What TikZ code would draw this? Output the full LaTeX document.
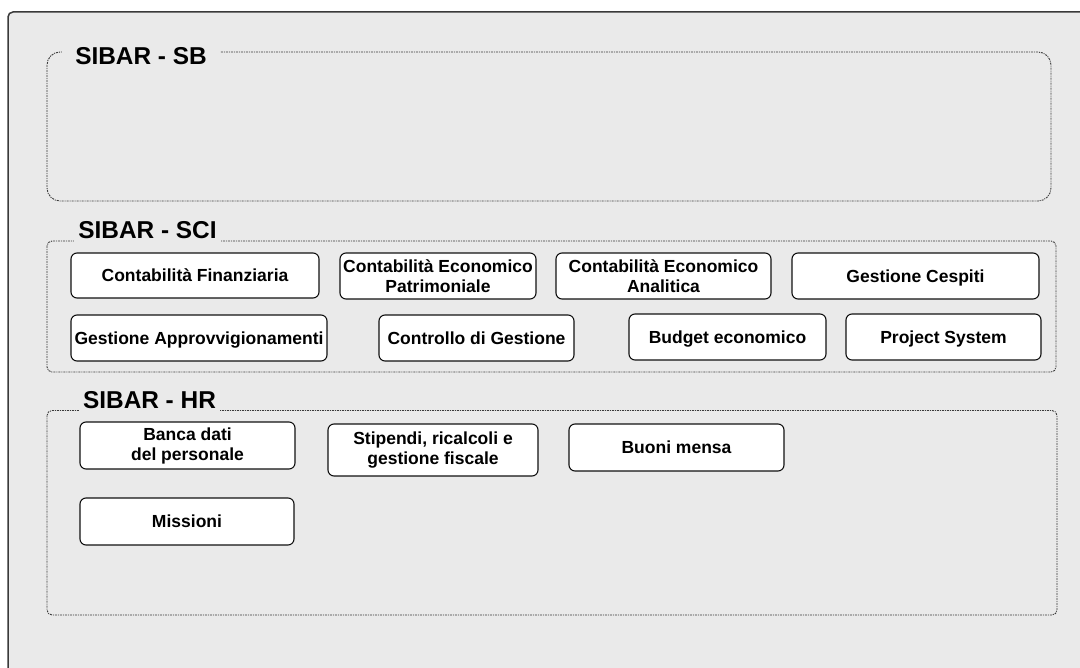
\documentclass[tikz,border=0pt]{standalone}
\usepackage{fontspec}
\setmainfont{Liberation Sans}
\usepackage{xcolor}
\usetikzlibrary{positioning,backgrounds}
\definecolor{ink}{HTML}{111111}
\definecolor{frame}{HTML}{3A3A3A}
\definecolor{paper}{HTML}{EAEAEA}
\tikzset{
  modbox/.style={draw=ink, fill=white, rounded corners=6pt, line width=1.1pt,
                 align=center, inner sep=0pt, minimum height=46pt,
                 font=\fontsize{17.5}{20}\selectfont\bfseries},
  oneline/.style={modbox, text height=12.5pt, text depth=0pt},
  area/.style={draw=frame, line width=0.9pt, rounded corners=5pt,
               dash pattern={on 2pt off 1pt on 1pt off 1pt}},
  areattl/.style={fill=paper, inner xsep=4.5pt, inner ysep=4pt,
                  font=\fontsize{24.4}{28}\selectfont\bfseries},
}

\begin{document}
\begin{tikzpicture}[x=1pt, y=-1pt]
\useasboundingbox (0,0) rectangle (1080,668);
\clip (0,0) rectangle (1080,668);

% outer sheet
\draw[draw=frame, fill=paper, line width=1.5pt, rounded corners=5pt]
  (8,12) rectangle (1110,700);

% the three areas
\draw[area, rounded corners=13pt] (47,52) rectangle (1051,201);
\draw[area] (47,241) rectangle (1056,372);
\draw[area] (47,410.5) rectangle (1057,615);

\node[areattl, inner xsep=13pt] (sbttl)  at (141,56)    {SIBAR - SB};
\node[areattl]                  (scittl) at (147.5,230) {SIBAR - SCI};
\node[areattl]                  (hrttl)  at (149.5,400) {SIBAR - HR};

% SCI modules
\node[oneline, minimum width=248pt, minimum height=45pt] (cfin) at (195,275.5) {Contabilità Finanziaria};
\node[modbox, minimum width=196pt] (cpat) at (438,276)   {Contabilità Economico\\Patrimoniale};
\node[modbox, minimum width=215pt] (cana) at (663.5,276) {Contabilità Economico\\Analitica};
\node[oneline, minimum width=247pt] (cesp) at (915.5,276) {Gestione Cespiti};

\node[oneline, minimum width=256pt] (appr) at (199,338)   {Gestione Approvvigionamenti};
\node[oneline, minimum width=195pt] (cdg)  at (476.5,338) {Controllo di Gestione};
\node[oneline, minimum width=197pt] (budg) at (727.5,337) {Budget economico};
\node[oneline, minimum width=195pt] (ps)   at (943.5,337) {Project System};

% HR modules
\node[modbox, minimum width=215pt, minimum height=47pt] (banca) at (187.5,445.5) {Banca dati\\del personale};
\node[modbox, minimum width=210pt, minimum height=52pt] (stip)  at (433,450)     {Stipendi, ricalcoli e\\gestione fiscale};
\node[oneline, minimum width=215pt, minimum height=47pt] (buoni) at (676.5,447.5) {Buoni mensa};
\node[oneline, minimum width=214pt, minimum height=47pt] (miss)  at (187,521.5)   {Missioni};

\end{tikzpicture}
\end{document}
